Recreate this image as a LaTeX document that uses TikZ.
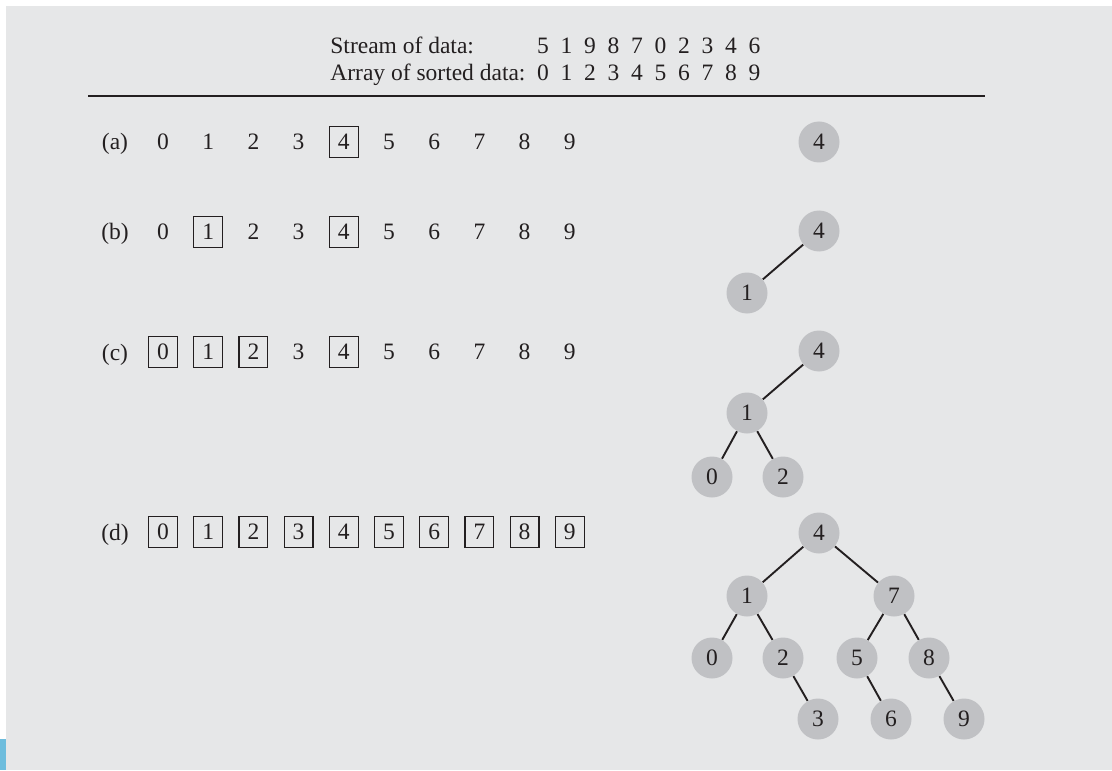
\documentclass[tikz,border=0pt]{standalone}
\usepackage{fontspec}
\setmainfont{Liberation Serif}
\usepackage{tikz}
\definecolor{pagegray}{RGB}{230,231,232}
\definecolor{keygray}{RGB}{192,193,196}
\definecolor{tabblue}{RGB}{110,189,221}
\definecolor{ink}{RGB}{35,31,32}

\begin{document}
\begin{tikzpicture}[x=0.5pt,y=-0.5pt,font=\fontsize{11.75}{14}\selectfont,color=ink,
        key/.style={inner sep=0pt,minimum width=14pt,minimum height=15pt},
        boxline/.style={line width=0.65pt},
        treekey/.style={circle,fill=keygray,minimum size=20.5pt,inner sep=0pt},
        treeedge/.style={line width=0.95pt}]
    \useasboundingbox (0,0) rectangle (1112,770);
    \fill[pagegray] (6,6) rectangle (1112,770);
    \fill[tabblue] (0,739) rectangle (6,770);

    % header
    \node[anchor=base west,inner sep=0pt] (stream) at (330,54) {Stream of data:};
    \node[anchor=base west,inner sep=0pt] (sorted) at (330,81) {Array of sorted data:};
    \foreach \d [count=\i from 0] in {5,1,9,8,7,0,2,3,4,6} \node[anchor=base] (s\i) at (543+23.5*\i,54) {\d};
    \foreach \i in {0,...,9} \node[anchor=base] (t\i) at (543+23.5*\i,81) {\i};
    \draw[line width=1pt] (88,96) -- (985,96);

    % rows of keys
    \foreach \r/\y in {a/142,b/232,c/352,d/532} {
        \node[anchor=base] (lbl\r) at (115,\y+8) {(\r)};
        \foreach \i in {0,...,9} \node[key] (\r\i) at (163+45.2*\i,\y) {\i};
    }
    \foreach \n in {a4,b1,b4,c0,c1,c2,c4,d0,d1,d2,d3,d4,d5,d6,d7,d8,d9} \draw[boxline] (\n.south west) rectangle (\n.north east);

    % trees
    \node[treekey] (ta4) at (819,142) {4};

    \node[treekey] (tb4) at (819,231) {4};
    \node[treekey] (tb1) at (747,293) {1};
    \draw[treeedge] (tb4) -- (tb1);

    \node[treekey] (tc4) at (819,351) {4};
    \node[treekey] (tc1) at (747,413) {1};
    \node[treekey] (tc0) at (712,477) {0};
    \node[treekey] (tc2) at (783,477) {2};
    \draw[treeedge] (tc4) -- (tc1); \draw[treeedge] (tc1) -- (tc0); \draw[treeedge] (tc1) -- (tc2);

    \node[treekey] (td4) at (819,533) {4};
    \node[treekey] (td1) at (747,596) {1};
    \node[treekey] (td7) at (894,596) {7};
    \node[treekey] (td0) at (712,658) {0};
    \node[treekey] (td2) at (783,658) {2};
    \node[treekey] (td5) at (857,658) {5};
    \node[treekey] (td8) at (929,658) {8};
    \node[treekey] (td3) at (818,719) {3};
    \node[treekey] (td6) at (891,719) {6};
    \node[treekey] (td9) at (964,719) {9};
    \foreach \p/\c in {4/1,4/7,1/0,1/2,2/3,7/5,7/8,5/6,8/9} \draw[treeedge] (td\p) -- (td\c);
\end{tikzpicture}
\end{document}
